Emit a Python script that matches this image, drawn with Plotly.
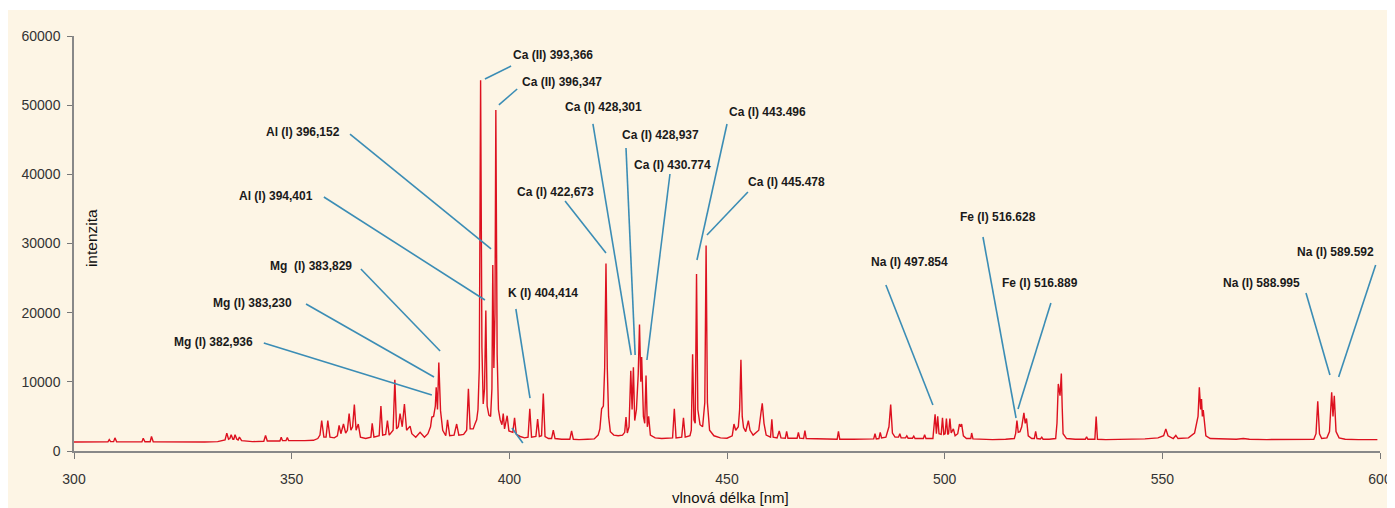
import plotly.graph_objects as go

# ---- spectrum data (wavelength nm, intensity) ----
wl_a = [300.0, 303, 306, 307.8, 308.1, 308.4, 309.1, 309.4, 309.8, 312, 315.6, 315.9, 316.3, 317.5, 317.8, 318.2,
        322, 326, 330, 333, 334.7, 335.1, 335.5, 335.8, 336.1, 336.5, 336.7, 337.0, 337.4, 337.7, 338.0, 338.5,
        341, 343.6, 344.0, 344.4, 346, 347.3, 347.6, 347.9, 348.7, 349.0, 349.3, 351, 353, 355, 356.0, 356.5,
        356.9, 357.4, 357.9, 358.3, 358.8, 359.8, 360.5, 360.9, 361.3, 361.9, 362.4, 362.8, 363.2, 363.6, 364.0,
        364.4, 364.8, 365.3, 365.8, 367, 368.2, 368.5, 368.9, 370.1, 370.5, 370.9, 371.6, 372.0, 372.4, 373.3,
        373.7, 374.1, 374.5, 374.9, 375.4, 375.9, 376.4, 377.2, 377.6, 378.5, 379.5, 380.5, 381.3, 381.9, 382.2,
        382.6, 383.0, 383.2, 383.5, 383.8, 384.2, 384.7, 385.4, 385.8, 386.3, 387.3, 387.9, 388.4, 389.5, 390.2,
        390.6, 391.0, 391.7, 392.1, 392.5]
int_a = [1300, 1280, 1300, 1320, 1660, 1350, 1350, 1900, 1330, 1300, 1320, 1850, 1330, 1340, 2100, 1340,
         1300, 1320, 1300, 1350, 1600, 2580, 1700, 1800, 2350, 1700, 1700, 2350, 1700, 1600, 2000, 1500,
         1350, 1400, 2250, 1450, 1400, 1450, 2000, 1500, 1500, 1950, 1500, 1450, 1500, 1550, 1800, 2300,
         4400, 2000, 2000, 4400, 2000, 1900, 2200, 3700, 2500, 3900, 2600, 3000, 5400, 3000, 3500,
         6700, 3000, 3900, 2000, 1800, 2000, 4000, 2000, 2200, 6500, 2300, 2400, 4400, 2300, 3000,
         10300, 3200, 3500, 5400, 3500, 6800, 3000, 3600, 2500, 2000, 2700, 2000, 2500, 3500, 4900,
         5000, 6500, 9200, 6000, 12800, 5800, 3000, 2200, 4500, 2200, 2300, 3900, 2300, 2400, 3000,
         9000, 3200, 3200, 3900, 4500]

wl_b = [392.8, 393.1, 393.4, 393.7, 394.0, 394.3, 394.6, 394.9, 395.3, 395.7, 396.0, 396.2, 396.45, 396.7, 396.9,
        397.2, 397.5, 397.9, 398.3, 398.6, 398.9, 399.5, 399.9, 400.8, 401.2, 401.6, 402.5, 403.5, 404.3, 404.7,
        405.1, 406.1, 406.5, 406.9, 407.4, 407.8, 408.2, 409.0, 409.7, 410.1, 410.5, 412, 413.9, 414.3, 414.7,
        416, 418, 419.5, 420.4]
int_b = [6000, 12000, 53600, 15000, 6800, 9000, 20300, 6500, 5200, 5000, 9000, 26900, 12000, 20000, 49300,
         14000, 6000, 4500, 3800, 5400, 3200, 5100, 2900, 2700, 4800, 2400, 2100, 1900, 2000, 6100,
         2000, 2100, 4600, 2100, 2200, 8300, 2100, 1800, 1800, 3000, 1800, 1700, 1700, 2900, 1700,
         1650, 1700, 1750, 2300]

wl_c = [420.8, 421.2, 421.6, 421.9, 422.2, 422.5, 422.8, 423.2, 424, 425, 426.0, 426.5, 426.8, 427.1, 427.5,
        427.9, 428.2, 428.5, 428.8, 429.2, 429.6, 429.9, 430.2, 430.4, 430.8, 431.1, 431.4, 431.7, 432.0, 432.4,
        433.5, 435, 437.5, 437.9, 438.3, 439.6, 440.0, 440.4, 441.5, 441.8, 442.1, 442.4, 442.7, 443.0, 443.3,
        443.8, 444.4, 444.9, 445.2, 445.5, 446.0, 447, 448.5, 450, 451.2, 451.6, 452.0, 452.6, 452.9, 453.2,
        453.5, 453.8, 454.3, 454.9, 455.3, 456, 457.3, 457.8, 458.1, 458.5, 459.0, 460.0, 460.3, 460.6, 461.5,
        462, 462.4, 463.4, 463.7, 464.0, 466.1, 466.4, 466.7, 467.6, 467.9, 468.2]
int_c = [3200, 6100, 6500, 12000, 27100, 12000, 5000, 2800, 2300, 2200, 2300, 2700, 4900, 2600, 3500,
         11600, 6000, 12100, 4400, 6000, 11000, 18300, 10000, 13600, 5000, 4000, 10900, 3500, 5000, 2300,
         1900, 1800, 1900, 6100, 1900, 2000, 4800, 2000, 2200, 3000, 14000, 4500, 4000, 25600, 6000,
         3800, 3500, 7000, 29700, 7000, 3000, 2200, 1900, 1850, 2200, 3900, 3000, 3500, 6000, 13200,
         5000, 3400, 2800, 4400, 3000, 2300, 3000, 5500, 6900, 4000, 2300, 2000, 4600, 2000, 1900,
         2900, 1900, 1850, 2850, 1850, 1850, 2700, 1850, 1800, 2950, 1800]

wl_d = [470, 473, 475.3, 475.6, 475.9, 479, 482, 483.7, 484.0, 484.3, 484.9, 485.2, 485.5, 486.5, 487.2, 487.6,
        488.0, 488.6, 489.4, 489.7, 490.0, 491.0, 491.3, 491.6, 492.6, 492.9, 493.2, 495.1, 495.4, 495.7, 497.3,
        497.8, 498.1, 498.4, 498.7, 499.2, 499.5, 499.8, 500.1, 500.4, 500.7, 500.9, 501.2, 501.5, 502.0, 502.4,
        503.0, 503.4, 503.7, 503.9, 504.3, 505, 506.0, 506.2, 506.5, 508, 511, 514, 516.0, 516.3, 516.6, 516.9,
        517.3, 517.7, 518.2, 518.5, 518.8, 519.2, 520.0, 520.6, 520.9, 521.2, 522.0, 522.3, 522.6, 524, 525.5,
        525.8, 526.1, 526.5, 526.8, 527.0, 527.2, 528, 530]
int_d = [1750, 1700, 1700, 2850, 1700, 1700, 1750, 1750, 2500, 1750, 1800, 2700, 1900, 2000, 3500, 6700,
         2600, 2000, 2000, 2500, 1900, 1900, 2200, 1850, 1850, 2150, 1800, 1800, 2350, 1800, 1800,
         5300, 2500, 5000, 2500, 2400, 4800, 2400, 2500, 4700, 2400, 2500, 4700, 2600, 3200, 2200,
         2500, 3900, 3500, 3900, 2200, 1800, 1800, 2600, 1750, 1700, 1650, 1700, 1800, 2500, 4400, 2700,
         2800, 3500, 5500, 4000, 4700, 2200, 1800, 1800, 2850, 1800, 1750, 2000, 1700, 1700, 1800,
         4000, 9700, 8000, 11200, 6300, 2500, 1800, 1700]

wl_e = [532.3, 532.6, 532.9, 534.5, 534.8, 535.1, 537, 540, 543, 546, 549, 550.3, 550.8, 551.3, 552.5, 553.1,
        553.6, 556, 557.4, 557.9, 558.2, 558.5, 558.8, 559.0, 559.2, 559.4, 559.7, 560.0, 561, 564, 567, 568.6,
        570, 574, 578, 582, 584.8, 585.3, 585.7, 586.1, 586.6, 587.8, 588.4, 588.9, 589.2, 589.5, 589.9, 590.6,
        592, 595, 597.5, 599.4]
int_e = [1700, 2050, 1700, 1700, 5000, 1700, 1650, 1650, 1700, 1750, 1900, 2200, 3200, 2200, 1800, 2250,
         1800, 1900, 2600, 3900, 5000, 9200, 6000, 7500, 5000, 5900, 4000, 2200, 1800, 1700, 1700, 1800,
         1700, 1650, 1650, 1650, 1700, 2500, 7200, 2500, 1800, 1900, 2800, 8500, 5000, 8000, 2800, 1900,
         1700, 1650, 1650, 1650]

wavelength = wl_a + wl_b + wl_c + wl_d + wl_e
intensity = int_a + int_b + int_c + int_d + int_e

x_ticks = [300, 350, 400, 450, 500, 550, 600]
y_ticks = [0, 10000, 20000, 30000, 40000, 50000, 60000]
y_tick_text = ["0", "10000", "20000", "30000", "40000", "50000", "60000"]

# ---- line labels: text, label position, leader line (start -> end) in data units ----
labels = ["Ca (II) 393,366", "Ca (II) 396,347", "Ca (I) 428,301", "Ca (I) 428,937", "Ca (I) 430.774",
          "Ca (I) 422,673", "Ca (I) 443.496", "Ca (I) 445.478", "Al (I) 396,152", "Al (I) 394,401",
          "Mg  (I) 383,829", "Mg (I) 383,230", "Mg (I) 382,936", "K (I) 404,414", "Na (I) 497.854",
          "Fe (I) 516.628", "Fe (I) 516.889", "Na (I) 588.995", "Na (I) 589.592"]
label_x = [410.0, 412.1, 421.6, 434.8, 437.5, 410.5, 459.4, 463.7, 352.6, 346.4,
           354.4, 341.1, 332.0, 407.7, 491.9, 512.25, 521.8, 572.7, 589.8]
label_y = [57250, 53350, 49740, 45690, 41350, 37450, 49010, 38890, 46120, 36870,
           26750, 21400, 15760, 22840, 27330, 33830, 24290, 24290, 28770]
lead_x0 = [400.4, 401.8, 419.2, 426.8, 436.9, 412.8, 450.0, 454.8, 363.4, 357.4,
           365.9, 353.3, 343.6, 401.5, 486.5, 508.8, 524.4, 583.0, 599.0, 400.6]
lead_y0 = [55660, 52340, 47280, 43810, 40050, 36150, 47280, 37450, 45830, 36720,
           26310, 21250, 15620, 20530, 24000, 30940, 21400, 22840, 26890, 3330]
lead_x1 = [394.4, 397.6, 428.0, 428.9, 431.6, 422.2, 443.1, 445.4, 395.8, 394.4,
           384.1, 382.7, 382.2, 404.75, 497.3, 516.4, 516.85, 588.5, 590.5, 403.1]
lead_y1 = [53780, 50030, 13880, 13880, 13160, 28630, 27620, 31230, 29210, 21830,
           14460, 10700, 8100, 7660, 6650, 4770, 6070, 10990, 10700, 1160]

CREAM = "#FDF5E5"
LABEL_FONT = dict(family="Liberation Sans Narrow, Arial Narrow, Liberation Sans, Arial", size=12,
                  color="#1a1a1a", weight=700)

fig = go.Figure()
fig.add_trace(go.Scatter(x=wavelength, y=intensity, mode="lines",
                         line=dict(color="#DD111F", width=1.4), hoverinfo="skip"))

shapes = [dict(type="rect", xref="paper", yref="paper", x0=-0.06, x1=1.03, y0=-0.2, y1=1.0627,
               fillcolor=CREAM, line=dict(width=0), layer="below")]
for a, b, c, d in zip(lead_x0, lead_y0, lead_x1, lead_y1):
    shapes.append(dict(type="line", xref="x", yref="y", x0=a, y0=b, x1=c, y1=d,
                       line=dict(color="#3B8DB5", width=1.6), layer="above"))

annotations = []
for t, x, y in zip(labels, label_x, label_y):
    annotations.append(dict(x=x, y=y, xref="x", yref="y", text=t, showarrow=False,
                            font=LABEL_FONT, xanchor="center", yanchor="middle"))
annotations.append(dict(x=0.013, y=0.513, xref="paper", yref="paper", text="intenzita", textangle=-90,
                        showarrow=False, font=dict(family="Liberation Sans, Arial", size=15.5, color="#111"),
                        xanchor="center", yanchor="middle"))
annotations.append(dict(x=0.503, y=-0.113, xref="paper", yref="paper", text="vlnová délka [nm]",
                        showarrow=False, font=dict(family="Liberation Sans, Arial", size=15, color="#111"),
                        xanchor="center", yanchor="middle"))

# page body has an 8px margin, so the figure is sized/offset to fill the rest of the window
fig.update_layout(
    width=1387, height=500,
    margin=dict(l=66, r=15, t=28, b=57, autoexpand=False),
    paper_bgcolor="white", plot_bgcolor="rgba(0,0,0,0)",
    showlegend=False, shapes=shapes, annotations=annotations,
    font=dict(family="Liberation Sans, Arial", size=14, color="#333"),
)
fig.update_xaxes(range=[300, 600], tickvals=x_ticks, ticks="outside", ticklen=6, tickcolor="#777",
                 showline=True, linecolor="#888", linewidth=1.5, showgrid=False, zeroline=False,
                 tickfont=dict(size=14, color="#333"), ticklabelstandoff=8, automargin=False)
fig.update_yaxes(range=[0, 60000], tickvals=y_ticks, ticktext=y_tick_text, ticks="outside", ticklen=5,
                 tickcolor="#777", showline=True, linecolor="#888", linewidth=1.5, showgrid=False,
                 zeroline=False, tickfont=dict(size=14, color="#333"), ticklabelstandoff=4, automargin=False)

fig.write_html("out.html")
